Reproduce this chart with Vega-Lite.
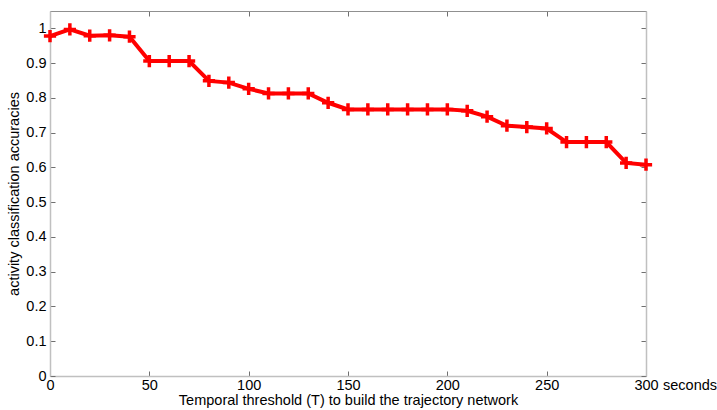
{
  "$schema": "https://vega.github.io/schema/vega-lite/v6.json",
  "width": 596,
  "height": 365,
  "autosize": {"type": "none"},
  "padding": {"left": 50, "top": 11, "right": 71, "bottom": 34},
  "background": "white",
  "config": {
    "view": {"stroke": null},
    "font": "Liberation Sans",
    "axis": {
      "labelFont": "Liberation Sans",
      "titleFont": "Liberation Sans",
      "labelFontSize": 14.5,
      "titleFontSize": 14.5,
      "titleFontWeight": "normal",
      "labelColor": "black",
      "titleColor": "black",
      "grid": false,
      "domainColor": "#b0b0b0",
      "domainWidth": 1.5,
      "tickColor": "#707070",
      "tickSize": -5,
      "tickWidth": 1
    }
  },
  "data": {
    "values": [
      {"T": 0, "acc": 0.978},
      {"T": 10, "acc": 0.997},
      {"T": 20, "acc": 0.979},
      {"T": 30, "acc": 0.980},
      {"T": 40, "acc": 0.976},
      {"T": 50, "acc": 0.906},
      {"T": 60, "acc": 0.906},
      {"T": 70, "acc": 0.906},
      {"T": 80, "acc": 0.849},
      {"T": 90, "acc": 0.844},
      {"T": 100, "acc": 0.826},
      {"T": 110, "acc": 0.813},
      {"T": 120, "acc": 0.813},
      {"T": 130, "acc": 0.813},
      {"T": 140, "acc": 0.786},
      {"T": 150, "acc": 0.767},
      {"T": 160, "acc": 0.767},
      {"T": 170, "acc": 0.767},
      {"T": 180, "acc": 0.767},
      {"T": 190, "acc": 0.767},
      {"T": 200, "acc": 0.767},
      {"T": 210, "acc": 0.763},
      {"T": 220, "acc": 0.746},
      {"T": 230, "acc": 0.720},
      {"T": 240, "acc": 0.716},
      {"T": 250, "acc": 0.712},
      {"T": 260, "acc": 0.673},
      {"T": 270, "acc": 0.673},
      {"T": 280, "acc": 0.673},
      {"T": 290, "acc": 0.613},
      {"T": 300, "acc": 0.608}
    ]
  },
  "layer": [
    {
      "mark": {"type": "line", "color": "#ff0000", "strokeWidth": 4, "clip": false},
      "encoding": {
        "x": {
          "field": "T", "type": "quantitative",
          "scale": {"domain": [0, 300], "nice": false, "zero": false},
          "axis": {
            "orient": "bottom",
            "values": [0, 50, 100, 150, 200, 250, 300],
            "title": "Temporal threshold (T) to build the trajectory network",
            "labelPadding": 7,
            "titlePadding": 1.5,
            "labelFlush": false,
            "labelOverlap": false,
            "domainColor": "#c0c0c0"
          }
        },
        "y": {
          "field": "acc", "type": "quantitative",
          "scale": {"domain": [0, 1.05], "nice": false},
          "axis": {
            "orient": "left",
            "values": [0, 0.1, 0.2, 0.3, 0.4, 0.5, 0.6, 0.7, 0.8, 0.9, 1],
            "format": "~g",
            "title": "activity classification accuracies",
            "labelPadding": 9,
            "titlePadding": 4,
            "labelFlush": false,
            "labelOverlap": false,
            "domainColor": "#c0c0c0"
          }
        }
      }
    },
    {
      "mark": {"type": "point", "shape": "M-1,0L1,0M0,-1L0,1", "filled": false, "color": "#ff0000", "strokeWidth": 3.5, "size": 150, "opacity": 1, "clip": false},
      "encoding": {
        "x": {
          "field": "T", "type": "quantitative",
          "axis": {
            "orient": "top",
            "values": [0, 50, 100, 150, 200, 250, 300],
            "labels": false,
            "title": null,
            "domainColor": "#909090",
            "domainWidth": 1
          }
        },
        "y": {
          "field": "acc", "type": "quantitative",
          "axis": {
            "orient": "right",
            "values": [0, 0.1, 0.2, 0.3, 0.4, 0.5, 0.6, 0.7, 0.8, 0.9, 1],
            "labels": false,
            "title": null,
            "domainColor": "#c0c0c0"
          }
        }
      }
    },
    {
      "data": {"values": [{"unit": "seconds"}]},
      "mark": {"type": "text", "align": "left", "baseline": "top", "dx": 17, "dy": 3, "fontSize": 14.5, "font": "Liberation Sans", "color": "black", "clip": false},
      "encoding": {
        "text": {"field": "unit", "type": "nominal"},
        "x": {"datum": 300, "type": "quantitative", "axis": null},
        "y": {"datum": 0, "type": "quantitative", "axis": null}
      }
    }
  ],
  "resolve": {"axis": {"x": "independent", "y": "independent"}}
}
